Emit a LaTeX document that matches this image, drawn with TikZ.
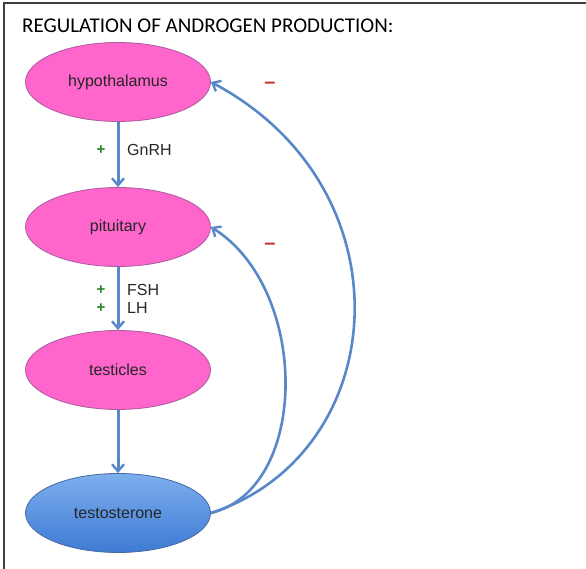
\documentclass[tikz,border=0pt]{standalone}
\usepackage{fontspec}
\setmainfont{Liberation Sans}
\newfontfamily\titlefont{Carlito}
\usetikzlibrary{shapes.geometric,arrows.meta}
\definecolor{organpink}{RGB}{255,102,204}
\definecolor{organedge}{RGB}{170,90,160}
\definecolor{hormblue}{RGB}{88,136,200}
\definecolor{plusgreen}{RGB}{40,130,40}
\definecolor{minusred}{RGB}{200,50,40}
\tikzset{
  organ/.style={ellipse,draw=organedge,fill=organpink,line width=0.8pt,
    minimum width=185pt,minimum height=79pt,inner sep=0pt,
    font=\fontsize{16}{18}\selectfont,text=black!85},
  hormone/.style={organ,draw=hormblue!80!black,top color={rgb,255:red,125;green,175;blue,238},
    bottom color={rgb,255:red,62;green,122;blue,212}},
  flow/.style={-{Straight Barb[length=7pt,width=12pt,line width=2.4pt]},hormblue,line width=3pt},
  lbl/.style={anchor=west,font=\fontsize{16}{18}\selectfont,text=black!85,inner sep=0pt},
  plus/.style={text=plusgreen,font=\bfseries\fontsize{15}{17}\selectfont,inner sep=0pt},
  minus/.style={text=minusred,font=\bfseries\fontsize{20}{22}\selectfont,inner sep=0pt}
}
\begin{document}
\begin{tikzpicture}[x=1pt,y=1pt]
  \useasboundingbox (0,0) rectangle (586,569);
  \draw[line width=1.5pt,black!75] (4,0) -- (4,566) -- (586,566);
  %title
  \node[anchor=base west,inner sep=0pt,font=\titlefont\fontsize{21}{24}\selectfont] (title)
    at (22,536) {REGULATION OF ANDROGEN PRODUCTION:};
  %organs
  \node[organ] (hyp) at (118,487) {hypothalamus};
  \node[organ] (pit) at (118,342) {pituitary};
  \node[organ] (tes) at (118,199) {testicles};
  \node[hormone] (tst) at (118,56) {testosterone};
  %stimulation
  \draw[flow] (hyp.south) -- (pit.north);
  \draw[flow] (pit.south) -- (tes.north);
  \draw[flow] (tes.south) -- (tst.north);
  \node[plus] (p1) at (101,419) {+};
  \node[lbl] (gnrh) at (127,419) {GnRH};
  \node[plus] (p2) at (101,279) {+};
  \node[lbl] (fsh) at (127,279) {FSH};
  \node[plus] (p3) at (101,261) {+};
  \node[lbl] (lh) at (127,261) {LH};
  %feedback
  \draw[flow,line width=2.6pt] (tst.east) .. controls (392,115) and (412,380) .. (hyp.east);
  \draw[flow,line width=2.6pt] (tst.east) .. controls (310,80) and (310,280) .. (pit.east);
  \node[minus] (m1) at (270,484) {--};
  \node[minus] (m2) at (270,323) {--};
\end{tikzpicture}
\end{document}
